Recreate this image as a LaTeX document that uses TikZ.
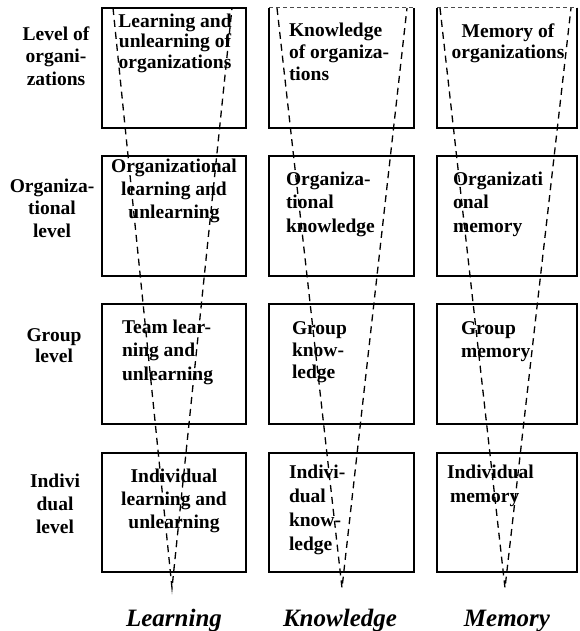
\documentclass[tikz,border=0pt]{standalone}
\usepackage{fontspec}
\setmainfont{Liberation Serif}
\begin{document}
\begin{tikzpicture}[x=1pt,y=-1pt,
  box/.style={line width=1.8pt, inner sep=0pt, outer sep=0pt, minimum height=120pt, anchor=north west},
  w1/.style={minimum width=144pt},
  w2/.style={minimum width=145pt},
  w3/.style={minimum width=140pt},
  txt/.style={inner sep=0pt, outer sep=0pt},
  bf/.style={font=\bfseries\fontsize{19.5}{#1}\selectfont},
  funnel/.style={dash pattern=on 7pt off 5pt, line width=1.3pt},
  topdash/.style={dash pattern=on 4pt off 3pt, line width=1pt, black!70},
  foot/.style={inner sep=0pt, anchor=base, font=\bfseries\itshape\fontsize{25}{28}\selectfont}]
\useasboundingbox (0,0) rectangle (579,631);

% boxes
\node[box,w1,draw] (b11) at (102,8) {};
\node[box,w2] (b12) at (269,8) {};
\node[box,w3] (b13) at (437,8) {};
\foreach \n in {b12,b13}{
  \draw[line width=1.8pt] (\n.north west) -- (\n.south west) -- (\n.south east) -- (\n.north east);
  \draw[topdash] (\n.north west) -- (\n.north east);
}
\node[box,w1,draw] (b21) at (102,156) {};
\node[box,w2,draw] (b22) at (269,156) {};
\node[box,w3,draw] (b23) at (437,156) {};
\node[box,w1,draw] (b31) at (102,304) {};
\node[box,w2,draw] (b32) at (269,304) {};
\node[box,w3,draw] (b33) at (437,304) {};
\node[box,w1,draw,minimum height=119pt] (b41) at (102,453) {};
\node[box,w2,draw,minimum height=119pt] (b42) at (269,453) {};
\node[box,w3,draw,minimum height=119pt] (b43) at (437,453) {};

% funnels
\coordinate (l1) at (113,8);  \coordinate (r1) at (232,8);  \coordinate (a1) at (172,588);
\coordinate (l2) at (277,8);  \coordinate (r2) at (407,8);  \coordinate (a2) at (342,588);
\coordinate (l3) at (440,8);  \coordinate (r3) at (571,8);  \coordinate (a3) at (505,588);
\draw[funnel] (l1) -- (a1) -- (r1);
\draw[funnel] (l2) -- (a2) -- (r2);
\draw[funnel] (l3) -- (a3) -- (r3);

% row labels
\node[txt,bf=22.5,align=center,anchor=north] (row1) at (56,26.5) {Level of\\organi-\\zations};
\node[txt,bf=22.5,align=center,anchor=north] (row2) at (52,178.5) {Organiza-\\tional\\level};
\node[txt,bf=21.5,align=center,anchor=north] (row3) at (54,328.5) {Group\\level};
\node[txt,bf=23,align=center,anchor=north] (row4) at (55,473.5) {Indivi\\dual\\level};

% learning column
\node[txt,bf=20.5,align=center,anchor=north] (t11) at (175,13.7) {Learning and\\unlearning of\\organizations};
\node[txt,bf=23,align=center,anchor=north] (t21) at (174,158.7) {Organizational\\learning and\\unlearning};
\node[txt,bf=23.5,align=left,anchor=north west] (t31) at (122,319.7) {Team lear-\\ning and\\unlearning};
\node[txt,bf=23,align=center,anchor=north] (t41) at (174,468.7) {Individual\\learning and\\unlearning};

% knowledge column
\node[txt,bf=22,align=left,anchor=north west] (t12) at (289,22.7) {Knowledge\\of organiza-\\tions};
\node[txt,bf=23.5,align=left,anchor=north west] (t22) at (286,171.7) {Organiza-\\tional\\knowledge};
\node[txt,bf=22,align=left,anchor=north west] (t32) at (292,321.7) {Group\\know-\\ledge};
\node[txt,bf=24,align=left,anchor=north west] (t42) at (289,464.7) {Indivi-\\dual\\know-\\ledge};

% memory column
\node[txt,bf=21.5,align=center,anchor=north] (t13) at (508,23.7) {Memory of\\organizations};
\node[txt,bf=23.5,align=left,anchor=north west] (t23) at (453,171.7) {Organizati\\onal\\memory};
\node[txt,bf=23,align=left,anchor=north west] (t33) at (461,321.7) {Group\\memory};
\node[txt,bf=24,align=left,anchor=north west] (t43) at (447,464.7) {Individual\\\hspace*{3pt}memory};

% footer
\node[foot] (f1) at (174,626) {Learning};
\node[foot] (f2) at (340,626) {Knowledge};
\node[foot] (f3) at (507,626) {Memory};
\end{tikzpicture}
\end{document}
